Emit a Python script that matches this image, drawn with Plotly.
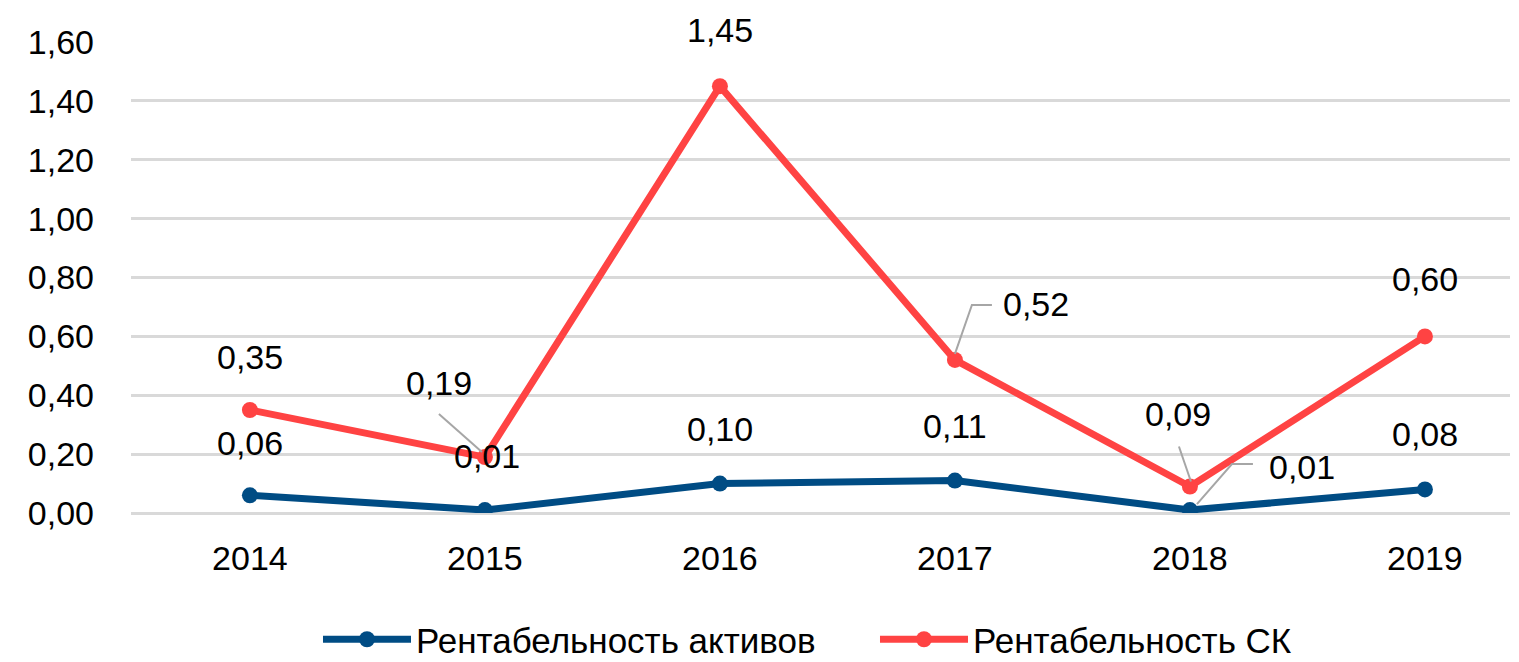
import plotly.graph_objects as go

years = ["2014", "2015", "2016", "2017", "2018", "2019"]
roa = [0.06, 0.01, 0.10, 0.11, 0.01, 0.08]   # Рентабельность активов
roe = [0.35, 0.19, 1.45, 0.52, 0.09, 0.60]   # Рентабельность СК

BLUE = "#004C84"
RED = "#FF4343"
LEADER = "#A6A6A6"
FONT = "Liberation Sans, Arial, sans-serif"
FS = 34

fig = go.Figure()
fig.add_trace(go.Scatter(
    x=years, y=roa, name="Рентабельность активов", mode="lines+markers",
    line=dict(color=BLUE, width=7), marker=dict(color=BLUE, size=16),
))
fig.add_trace(go.Scatter(
    x=years, y=roe, name="Рентабельность СК", mode="lines+markers",
    line=dict(color=RED, width=7), marker=dict(color=RED, size=16),
))


def fmt(v):
    return f"{v:.2f}".replace(".", ",")


# label offset from its point (dx right, dy up, in px) and optional leader path
roa_pos = [(0, 52, None), (2, 54, None), (0, 55, None),
           (0, 55, None), (112, 43, "M 7,6 L 42,46 L 63,46"), (0, 55, None)]
roe_pos = [(0, 53, None), (-46, 74, "M -46,43 L -3,5"), (0, 56, None),
           (81, 56, "M 0,6 L 17,55 L 37,55"), (-12, 73, "M -11,40 L 1,5"),
           (0, 57, None)]

for vals, pos in ((roa, roa_pos), (roe, roe_pos)):
    for i, (v, (dx, dy, leader)) in enumerate(zip(vals, pos)):
        if leader:
            fig.add_shape(type="path", xref="x", yref="y",
                          xsizemode="pixel", ysizemode="pixel",
                          xanchor=i, yanchor=v, path=leader,
                          line=dict(color=LEADER, width=2))
        fig.add_annotation(x=i, y=v, xref="x", yref="y", text=fmt(v),
                           showarrow=False, xshift=dx, yshift=dy,
                           font=dict(family=FONT, size=FS, color="#000000"))

fig.update_layout(
    width=1519, height=662,
    margin=dict(l=131, r=9, t=42, b=149, autoexpand=False),
    paper_bgcolor="white", plot_bgcolor="white",
    separators=", ",
    font=dict(family=FONT, size=FS, color="#000000"),
    showlegend=True,
    legend=dict(orientation="h", x=0.1356, xanchor="left",
                yref="container", y=0.034, yanchor="middle",
                font=dict(family=FONT, size=35, color="#000000"),
                itemwidth=88, entrywidth=454, entrywidthmode="pixels",
                tracegroupgap=0),
    xaxis=dict(type="category", range=[-0.506, 5.362], showgrid=False,
               showline=False, ticks="", tickfont=dict(size=FS),
               ticklabelstandoff=22, automargin=False),
    yaxis=dict(range=[0, 1.6], dtick=0.2, tickformat=".2f",
               showgrid=True, gridcolor="#D9D9D9", gridwidth=2.5,
               zeroline=True, zerolinecolor="#D9D9D9", zerolinewidth=2.5,
               ticks="", tickfont=dict(size=FS), ticklabelstandoff=36,
               automargin=False),
)

fig.write_html("out.html")
